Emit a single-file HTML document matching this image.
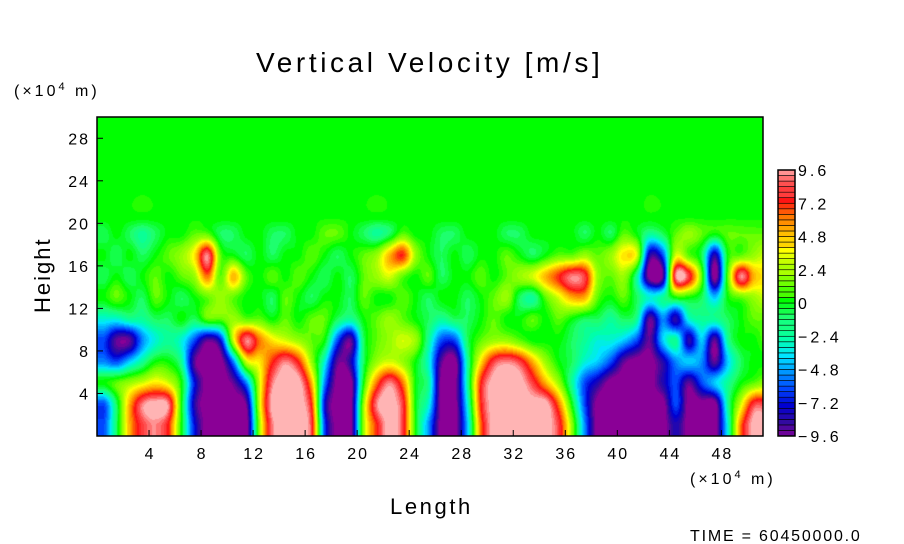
<!DOCTYPE html>
<html><head><meta charset="utf-8">
<style>
body{margin:0;background:#fff;width:904px;height:544px;overflow:hidden;font-family:"Liberation Sans",sans-serif;}
svg text{font-family:"Liberation Sans",sans-serif;fill:#000;}
#wrap{position:relative;width:904px;height:544px;}
canvas{position:absolute;}
</style></head><body>
<div id="wrap">
<canvas id="hm" width="666" height="319" style="left:97px;top:117px"></canvas>
<svg id="ov" width="904" height="544" style="position:absolute;left:0;top:0"></svg>
</div>
<script>
// ---- data: x cell centres 0.5..51.5 (1 unit), rows by height ----
const xCenters = Array.from({length:52},(_, i)=>i+0.5);
const yCenters = [1,3,5,7,9,11,13,15,17,19,20.6,24,28];
const row01 = [-6,-1,5,8,9,7,0,-7,-10,-10,-10,-10,2,9,10,10,8,-6,-10,-10,2,7,10,8,0,-5,-10,-10,-4,6,10,10,10,10,10,8,2,-5,-10,-10,-10,-10,-10,-10,-8,-10,-10,-10,-3,6,10,10];
const row03 = [-6,-1,5,9,10,9,0,-8,-10,-10,-10,-9,3,10,10,10,7,-7,-10,-10,2,9,10,8,0,-3,-10,-10,-3,7,10,10,10,10,10,6,0,-6,-10,-10,-10,-10,-10,-10,-6,-10,-10,-10,-2,3,8,8];
const row05 = [0,1,2,3,4,3,0,-7,-10,-10,-9,-5,3,9,10,10,5,-5,-10,-10,0,6,9,6,0,-2,-10,-10,-2,7,10,10,10,8,5,2,-2,-6,-8,-10,-10,-10,-10,-8,-6,-9,-6,-4,-2,0,1,2];
const row07 = [-5,-6,-4,-2,0,0,-2,-9,-10,-10,-5,3,4,7,9,7,2,-3,-9,-8,-1,2,3,2,0,-3,-9,-10,-2,4,8,9,8,5,2,0,-1,-3,-4,-6,-9,-10,-10,-8,-5,-4,-5,-9,-4,-1,0,0];
const row09 = [-6,-9,-9,-5,-3,-2,-3,-6,-9,-7,3,9,6,4,3,2,1,0,-6,-9,-1,1,2,3,2,-2,-6,-6,-1,1,2,2,1,0,0,0,-1,-2,-3,-3,-4,-6,-9,-4,-2,-8,-4,-9,-2,0,0,1];
const row11 = [-3,-3,-2,-2,-1,-1,0,-1,1,1,2,1,1,0,1,0,1,1,-1,-2,0,1,2,1,0,-1,-2,-1,-1,0,1,0,0,1,0,1,0,-1,-1,-2,-1,-2,-9,-5,-8,-3,-2,-2,-1,0,1,1];
const row13 = [0,1,0,-1,1,0,-1,0,1,2,1,0,0,-1,1,0,-1,0,0,-1,1,0,0,1,0,-1,0,0,-1,0,1,2,-1,-2,1,3,5,5,1,0,1,-1,-3,-2,0,0,-1,-4,0,1,2,3];
const row15 = [-1,0,-1,0,1,0,1,2,6,1,5,1,0,1,0,1,0,-1,0,-1,1,2,3,1,0,1,-1,0,0,1,0,1,2,3,5,7,9,8,2,1,2,-2,-10,-9,9,8,1,-10,1,9,5,4];
const row17 = [0,-1,0,-1,0,1,2,4,9,1,0,-1,0,-1,0,0,1,0,-1,0,1,2,5,7,2,0,-1,0,-1,0,0,1,0,-1,0,1,1,2,1,2,4,3,-8,-6,3,1,-1,-8,0,1,2,3];
const row19 = [-1,0,-1,-2,-1,0,0,1,1,-1,-1,0,0,-1,-1,0,0,1,1,0,-1,-2,-1,1,0,0,-1,-1,0,0,0,-1,-1,0,0,0,0,-1,0,-1,1,0,-2,-1,1,2,1,0,1,1,1,1];
const row21 = Array(52).fill(0.1);
const row24 = Array(52).fill(0.1);
const row28 = Array(52).fill(0.1);
const gridRows = [row01,row03,row05,row07,row09,row11,row13,row15,row17,row19,row21,row24,row28];
const xTicks = [4,8,12,16,20,24,28,32,36,40,44,48];
const yTicks = [4,8,12,16,20,24,28];
const cbLabels = ["9.6","7.2","4.8","2.4","0","\u22122.4","\u22124.8","\u22127.2","\u22129.6"];
const cbValues = [9.6,7.2,4.8,2.4,0,-2.4,-4.8,-7.2,-9.6];

// ---- scales ----
const PX0=97, PX1=763, PY0=117, PY1=436, XMAX=51.2, YMAX=30;
const sx = v => PX0 + v/XMAX*(PX1-PX0);
const sy = v => PY1 - v/YMAX*(PY1-PY0);
const CB_X=778, CB_W=17, CB_TOP=170, CB_BOT=436, VMIN=-9.6, VMAX=9.6;
const cy = v => CB_BOT - (v-VMIN)/(VMAX-VMIN)*(CB_BOT-CB_TOP);

const stops=[[-9.6,[138,0,150]],[-8.4,[50,10,160]],[-7.2,[0,0,210]],[-6,[0,70,255]],[-4.8,[0,150,255]],[-3.6,[0,230,255]],[-2.4,[0,255,170]],[-1.2,[30,255,110]],[0,[0,255,0]],[1.2,[110,255,0]],[2.4,[170,255,0]],[3.6,[255,255,0]],[4.8,[255,190,0]],[6,[255,120,0]],[7.2,[255,20,20]],[8.4,[255,80,80]],[9.6,[255,180,180]]];
function cmap(v){
  v=Math.max(VMIN,Math.min(VMAX,v));
  v=Math.round(v/0.4)*0.4;
  for(let i=1;i<stops.length;i++){
    if(v<=stops[i][0]+1e-9){const a=stops[i-1],b=stops[i];const t=(v-a[0])/(b[0]-a[0]);
      return [0,1,2].map(k=>Math.round(a[1][k]+(b[1][k]-a[1][k])*t));}
  }
  return stops[stops.length-1][1];
}
function cr(p0,p1,p2,p3,t){return 0.5*((2*p1)+(-p0+p2)*t+(2*p0-5*p1+4*p2-p3)*t*t+(-p0+3*p1-3*p2+p3)*t*t*t);}
function yIndex(y){
  if(y<=yCenters[0]) return 0;
  for(let j=1;j<yCenters.length;j++) if(y<=yCenters[j]) return j-1+(y-yCenters[j-1])/(yCenters[j]-yCenters[j-1]);
  return yCenters.length-1.0001;
}
function val(x,y){
  const nx=xCenters.length, ny=yCenters.length;
  let fx=(x-xCenters[0])/(xCenters[1]-xCenters[0]), fy=yIndex(y);
  fx=Math.max(0,Math.min(nx-1.0001,fx)); fy=Math.max(0,Math.min(ny-1.0001,fy));
  const ix=Math.floor(fx), iy=Math.floor(fy), tx=fx-ix, ty=fy-iy;
  const g=(i,j)=>gridRows[Math.max(0,Math.min(ny-1,j))][Math.max(0,Math.min(nx-1,i))];
  const r=[];
  for(let j=-1;j<=2;j++) r.push(cr(g(ix-1,iy+j),g(ix,iy+j),g(ix+1,iy+j),g(ix+2,iy+j),tx));
  return cr(r[0],r[1],r[2],r[3],ty);
}
// ---- heatmap ----
const cv=document.getElementById('hm'), ctx=cv.getContext('2d');
const W=cv.width,H=cv.height,img=ctx.createImageData(W,H);
for(let py=0;py<H;py++)for(let px=0;px<W;px++){
  const x=(px+0.5)/W*XMAX, y=(H-py-0.5)/H*YMAX;
  const c=cmap(val(x,y)); const o=(py*W+px)*4;
  img.data[o]=c[0];img.data[o+1]=c[1];img.data[o+2]=c[2];img.data[o+3]=255;
}
ctx.putImageData(img,0,0);

// ---- overlay ----
const svg=document.getElementById('ov'), NS='http://www.w3.org/2000/svg';
function mk(tag,attrs,parent){const e=document.createElementNS(NS,tag);for(const k in attrs)e.setAttribute(k,attrs[k]);(parent||svg).appendChild(e);return e;}
let t;
t=mk('text',{x:256,y:72,'font-size':28,'letter-spacing':'3.6'});t.textContent='Vertical Velocity [m/s]';


t=mk('text',{x:14,y:96,'font-size':16,'letter-spacing':'3'});t.innerHTML='(\u00d710<tspan dy="-6" font-size="11">4</tspan><tspan dy="6"> m)</tspan>';


t=mk('text',{x:690,y:484,'font-size':16,'letter-spacing':'3'});t.innerHTML='(\u00d710<tspan dy="-6" font-size="11">4</tspan><tspan dy="6"> m)</tspan>';


t=mk('text',{x:390,y:514,'font-size':22,'letter-spacing':'2.6'});t.textContent='Length';


t=mk('text',{x:50,y:313,'font-size':22,'letter-spacing':'2','transform':'rotate(-90 50 313)'});t.textContent='Height';


t=mk('text',{x:690,y:541,'font-size':16,'letter-spacing':'1.8'});t.textContent='TIME = 60450000.0';


const fr=mk('rect',{x:PX0,y:PY0,width:PX1-PX0,height:PY1-PY0,fill:'none',stroke:'#000','stroke-width':1.5});


xTicks.forEach(v=>{
  const l=mk('line',{x1:sx(v),x2:sx(v),y1:PY1,y2:PY1-6,stroke:'#000'});
  
  
  const tx=mk('text',{x:sx(v)+1,y:459,'text-anchor':'middle','font-size':16,'letter-spacing':'2'});tx.textContent=v;
  
  
});
yTicks.forEach(v=>{
  const l=mk('line',{x1:PX0,x2:PX0+6,y1:sy(v),y2:sy(v),stroke:'#000'});
  
  
  const tx=mk('text',{x:90,y:sy(v)+6,'text-anchor':'end','font-size':16,'letter-spacing':'2'});tx.textContent=v;
  
  
});
// colorbar
const nb=48, step=(VMAX-VMIN)/nb;
for(let i=0;i<nb;i++){
  const v0=VMIN+i*step, c=cmap(v0+step/2);
  const r=mk('rect',{x:CB_X,y:cy(v0+step),width:CB_W,height:cy(v0)-cy(v0+step),fill:`rgb(${c[0]},${c[1]},${c[2]})`,stroke:'#000','stroke-width':0.6});
  
  
}
const cbf=mk('rect',{x:CB_X,y:CB_TOP,width:CB_W,height:CB_BOT-CB_TOP,fill:'none',stroke:'#000','stroke-width':1.5});


cbValues.forEach((v,i)=>{
  const tx=mk('text',{x:798,y:cy(v)+6,'font-size':16,'letter-spacing':'3'});tx.textContent=cbLabels[i];
  
  
});
</script>
</body></html>
